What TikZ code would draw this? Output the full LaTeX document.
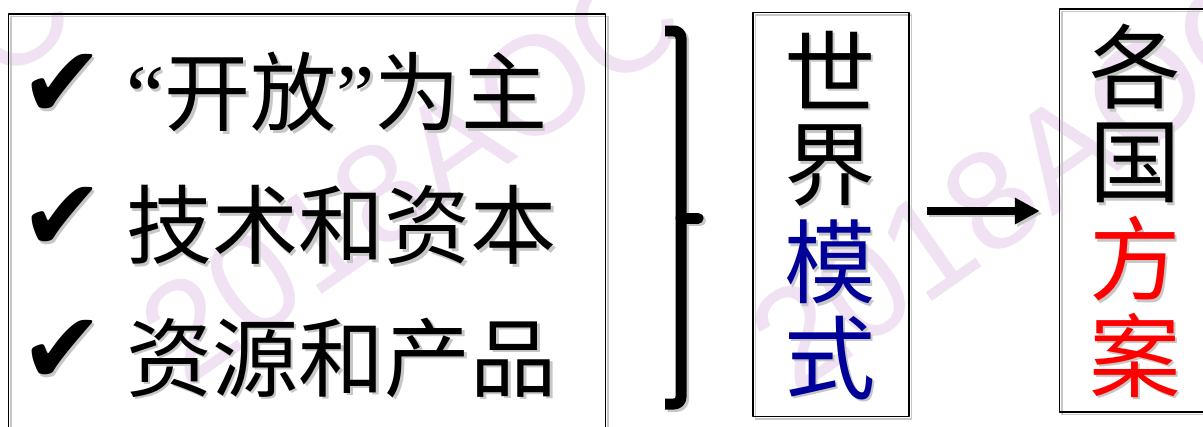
\documentclass[tikz,border=0pt]{standalone}
\usepackage{fontspec}
\newfontfamily\cjk{Noto Sans CJK SC}
\newfontfamily\symfont{DejaVu Sans}
\newfontfamily\quotefont{Liberation Serif}
\newfontfamily\wmfont{Liberation Sans}
\usetikzlibrary{arrows.meta,calc}
\definecolor{modeblue}{RGB}{0,0,153}
\definecolor{planred}{RGB}{255,0,0}
\definecolor{wmpink}{RGB}{240,226,243}

% a node with a soft grey copy behind it
\newcommand\shnode[4]{%
  \node[#1,shadowcopy] at ($(#3)+(2.5,2.5)$) {#4};
  \node[#1] (#2) at (#3) {#4};}

\begin{document}
\begin{tikzpicture}[x=0.02cm, y=-0.02cm, line join=round]
  % styles
  \tikzset{
    shadowcopy/.style={color=black!22, text=black!22},
    watermark/.style={text=wmpink, font=\wmfont\fontsize{80}{80}\selectfont, rotate=35},
    frame/.style={draw, line width=0.8pt, inner sep=0pt},
    tick/.style={font=\symfont\fontsize{57}{57}\selectfont},
    item/.style={anchor=west, inner sep=0pt, font=\cjk\fontsize{49}{49}\selectfont},
    bigchar/.style={inner sep=0pt, font=\cjk\fontsize{52}{52}\selectfont},
    link/.style={line width=4pt, -{Triangle[length=0.5cm,width=0.5cm]}}
  }

  \clip (0,0) rectangle (1203,426);
  \fill[white] (0,0) rectangle (1203,426);

  % ----- watermark -----
  \foreach \wx/\wy [count=\w] in {-199/166, 411/173, 1021/180}
    \node[watermark] (wm\w) at (\wx,\wy) {2018AOC};

  % ----- left list -----
  \shnode{frame, minimum width=11.94cm, minimum height=8.6cm}{list}{307,229}{}
  \foreach \txt/\ty [count=\i] in {{{\quotefont “}开放{\quotefont ”}为主}/92, 技术和资本/225, 资源和产品/358}{
    \shnode{tick}{tick\i}{62,\ty-6}{✔}
    \shnode{item}{item\i}{126,\ty}{\txt}
  }

  % ----- brace -----
  \foreach \bx/\bc in {2.5/black!22, 0/black}{
    \begin{scope}[shift={(\bx,\bx)}]
      \draw[\bc, line width=0.22cm, rounded corners=4] (665,31) -- (681,31) -- (681,404) -- (665,404);
      \draw[\bc, line width=0.22cm, line cap=round] (681,218) -- (698,218);
    \end{scope}
  }

  % ----- world model -----
  \shnode{frame, minimum width=3.12cm, minimum height=8.08cm}{model}{831,214.5}{}
  \foreach \ch/\col [count=\i] in {世/black, 界/black, 模/modeblue, 式/modeblue}{
    \shnode{bigchar, text=\col}{m\i}{830,70+96*\i-96}{\ch}
  }

  % ----- national plans -----
  \shnode{frame, minimum width=3.1cm, minimum height=8.06cm}{plan}{1137,210.5}{}
  \foreach \ch/\col [count=\i] in {各/black, 国/black, 方/planred, 案/planred}{
    \shnode{bigchar, text=\col}{p\i}{1135,67+96*\i-96}{\ch}
  }

  % ----- arrow -----
  \coordinate (arrowy) at (0,211);
  \draw[link, black!22, shorten <=0.34cm, shorten >=0.38cm]
    ($(model.east |- arrowy)+(2.5,2.5)$) -- ($(plan.west |- arrowy)+(2.5,2.5)$);
  \draw[link, shorten <=0.34cm, shorten >=0.38cm] (model.east |- arrowy) -- (plan.west |- arrowy);
\end{tikzpicture}
\end{document}
